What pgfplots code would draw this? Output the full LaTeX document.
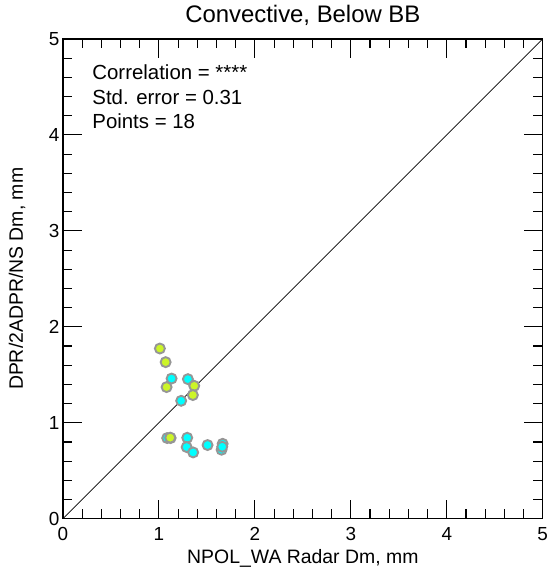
\documentclass[border=0pt]{standalone}
\usepackage{pgfplots}
\pgfplotsset{compat=1.18}
\usepackage{fontspec}
\setmainfont{Liberation Sans}
\usetikzlibrary{calc}
\definecolor{ptyellow}{RGB}{204,245,40}
\definecolor{ptcyan}{RGB}{0,255,255}
\definecolor{ptedge}{RGB}{150,150,150}
\begin{document}
\begin{tikzpicture}
\begin{axis}[
  name=ax,
  scale only axis,
  width=480bp, height=480bp,
  xmin=0, xmax=5, ymin=0, ymax=5,
  clip=false,
  xtick={0,1,2,3,4,5}, ytick={0,1,2,3,4,5},
  xticklabels={0,1,2,3,4,5}, yticklabels={0,1,2,3,4,5},
  minor tick num=4,
  major tick length=19bp,
  minor tick length=9.5bp,
  tick style={black, line width=1.1bp},
  axis line style={line width=1.1bp},
  tick label style={font=\fontsize{19}{22}\selectfont},
  xticklabel style={yshift=-5bp},
  xlabel={NPOL\_WA Radar Dm, mm},
  ylabel={DPR/2ADPR/NS Dm, mm},
  label style={font=\fontsize{19.5}{22}\selectfont},
  xlabel style={at={(axis description cs:0.5,0)}, anchor=center, yshift=-40bp},
  ylabel style={at={(axis description cs:0,0.5)}, anchor=center, yshift=46bp},
  title={Convective, Below BB},
  title style={font=\fontsize{24}{27}\selectfont, at={(axis description cs:0.5,1)}, anchor=center, yshift=18bp},
]
\addplot[black, line width=0.7bp] coordinates {(0,0) (5,5)};
\addplot[only marks, mark=*, mark size=5bp, mark options={fill=ptcyan, draw=ptedge, line width=1.9bp}] coordinates {
(1.132,1.461) (1.302,1.455) (1.232,1.229) (1.086,0.841) (1.295,0.844)
(1.289,0.747) (1.357,0.691) (1.507,0.768) (1.664,0.781) (1.653,0.719)
(1.660,0.750)
};
\addplot[only marks, mark=*, mark size=5bp, mark options={fill=ptyellow, draw=ptedge, line width=1.9bp}] coordinates {
(1.010,1.774) (1.070,1.632) (1.080,1.372) (1.368,1.385) (1.354,1.289)
(1.122,0.841) (1.118,0.845)
};
\pgfplotsinvokeforeach{1,2,3,4}{
  \draw[black, line width=1.1bp] (axis cs:#1,0) -- ++(0,19bp);
  \draw[black, line width=1.1bp] (axis cs:#1,5) -- ++(0,-19bp);
  \draw[black, line width=1.1bp] (axis cs:0,#1) -- ++(19bp,0);
  \draw[black, line width=1.1bp] (axis cs:5,#1) -- ++(-19bp,0);
}
\pgfplotsinvokeforeach{0.2,0.4,0.6,0.8,1.2,1.4,1.6,1.8,2.2,2.4,2.6,2.8,3.2,3.4,3.6,3.8,4.2,4.4,4.6,4.8}{
  \draw[black, line width=1.1bp] (axis cs:#1,0) -- ++(0,9.5bp);
  \draw[black, line width=1.1bp] (axis cs:#1,5) -- ++(0,-9.5bp);
  \draw[black, line width=1.1bp] (axis cs:0,#1) -- ++(9.5bp,0);
  \draw[black, line width=1.1bp] (axis cs:5,#1) -- ++(-9.5bp,0);
}
\node[anchor=west, font=\fontsize{20.5}{24}\selectfont] at (axis cs:0.27,4.656) {Correlation = ****};
\node[anchor=west, font=\fontsize{20.5}{24}\selectfont] at (axis cs:0.27,4.396) {Std. error = 0.31};
\node[anchor=west, font=\fontsize{20.5}{24}\selectfont] at (axis cs:0.27,4.146) {Points = 18};
\end{axis}
\path ($(ax.south west)+(-63bp,-52bp)$) rectangle ($(ax.north east)+(9bp,39bp)$);
\end{tikzpicture}
\end{document}
